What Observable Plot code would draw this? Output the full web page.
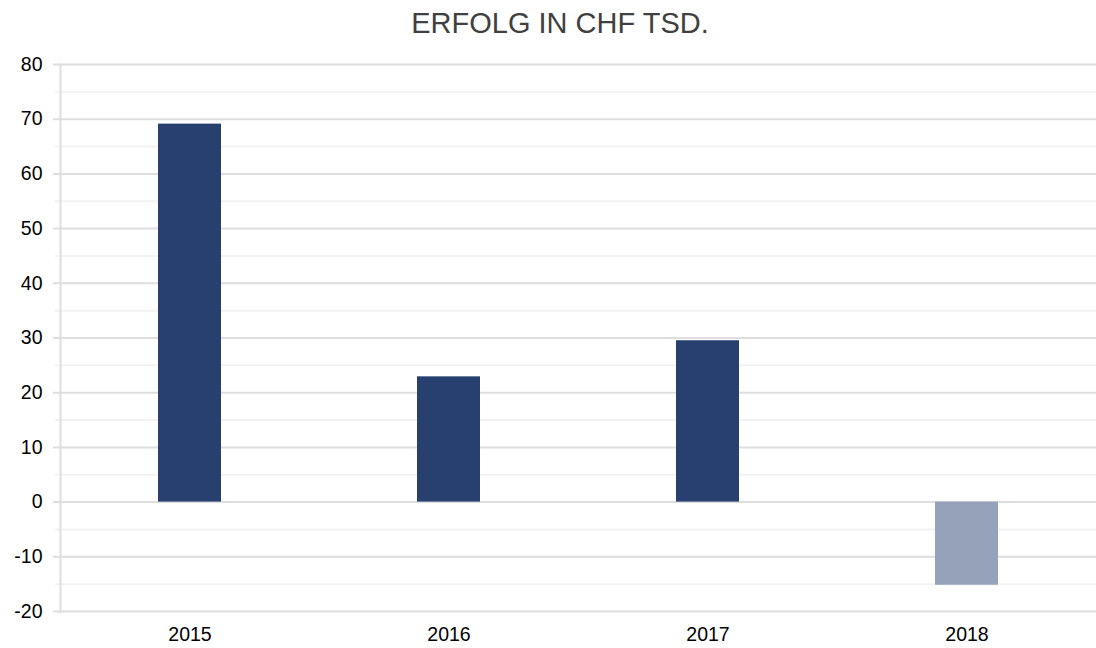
<!DOCTYPE html>
<html><head><meta charset="utf-8">
<script src="https://cdn.jsdelivr.net/npm/d3@7"></script>
<script src="https://cdn.jsdelivr.net/npm/@observablehq/plot@0.6"></script>
<style>
body{margin:0;background:#fff;font-family:"Liberation Sans",Arial,sans-serif;}
#title{height:50px;width:1096px;box-sizing:border-box;padding-left:24px;padding-top:9px;text-align:center;font-size:29px;line-height:29px;color:#404040;}
#chart svg{display:block;}
</style></head><body>
<div id="title">ERFOLG IN CHF TSD.</div>
<div id="chart"></div>
<script>
const years = ["2015", "2016", "2017", "2018"];
const values = [69.1, 22.9, 29.5, -15.2];
const majorTicks = [-20, -10, 0, 10, 20, 30, 40, 50, 60, 70, 80];
const minorTicks = [-15, -5, 5, 15, 25, 35, 45, 55, 65, 75];
const positiveColor = "#284070";
const negativeColor = "#95a2b9";

const data = years.map((year, i) => ({year, value: values[i]}));

const chart = Plot.plot({
  width: 1096,
  height: 598,
  marginLeft: 60,
  marginRight: 0,
  marginTop: 14,
  marginBottom: 37,
  style: {fontFamily: "Liberation Sans, Arial, sans-serif", fontSize: "19.5px", color: "#000", background: "#fff", overflow: "visible"},
  x: {domain: years, paddingInner: 0.757, paddingOuter: 0.3785, align: 0.5, label: null},
  y: {domain: [-20, 80], label: null},
  color: {type: "identity"},
  marks: [
    Plot.ruleY(minorTicks, {stroke: "#f2f2f2", strokeWidth: 2, insetLeft: -5}),
    Plot.ruleY(majorTicks, {stroke: "#dedede", strokeWidth: 2, insetLeft: -7}),
    Plot.frame({anchor: "left", stroke: "#dedede", strokeWidth: 2}),
    Plot.barY(data, {x: "year", y: "value", fill: d => d.value < 0 ? negativeColor : positiveColor}),
    Plot.axisY({ticks: majorTicks, tickSize: 0, tickPadding: 18, tickFormat: d => String(d), fontSize: 19.5}),
    Plot.axisX({tickSize: 0, tickPadding: 16, fontSize: 19.5})
  ]
});
document.getElementById("chart").appendChild(chart);
</script>
</body></html>
